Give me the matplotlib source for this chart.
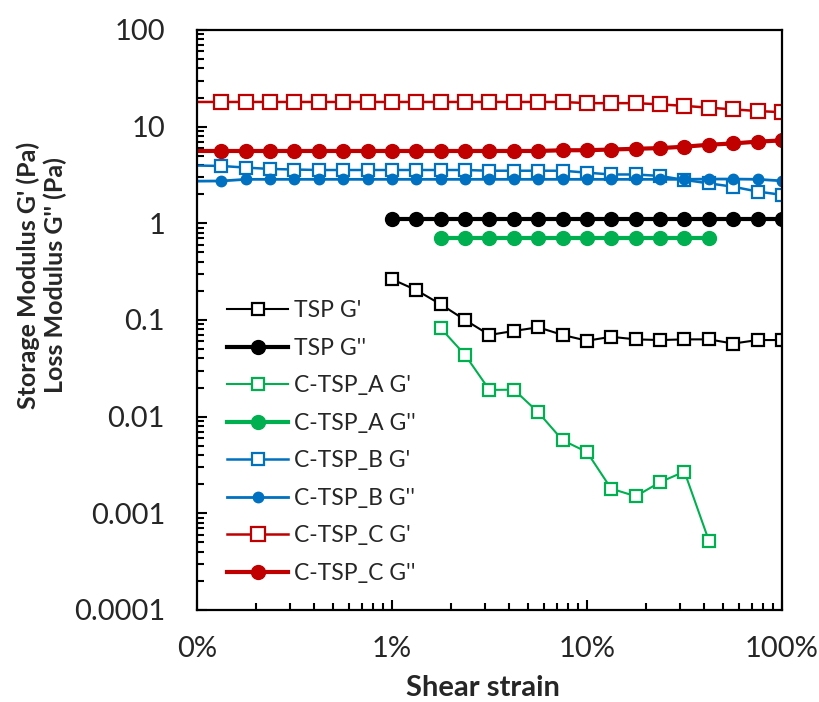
import matplotlib.pyplot as plt
from matplotlib.ticker import FuncFormatter, LogLocator, NullFormatter

plt.rcParams['font.family'] = ['Lato', 'DejaVu Sans']

# shear strain (fraction), 8 points per decade
strain = [0.00075, 0.00133, 0.00178, 0.00237, 0.00316, 0.00422, 0.00562, 0.0075,
          0.01, 0.0133, 0.0178, 0.0237, 0.0316, 0.0422, 0.0562, 0.075,
          0.1, 0.133, 0.178, 0.237, 0.316, 0.422, 0.562, 0.75, 1.0]

# TSP : from 1 % to 100 %
tsp_x = strain[8:]
tsp_g1 = [0.264, 0.204, 0.145, 0.100, 0.070, 0.077, 0.084, 0.070, 0.061,
          0.067, 0.063, 0.062, 0.063, 0.063, 0.057, 0.062, 0.062]
tsp_g2 = [1.10] * 17

# C-TSP_A : from 1.78 % to 42 %
a_x = strain[10:22]
a_g1 = [0.082, 0.0435, 0.0189, 0.019, 0.0111, 0.0057, 0.0043, 0.0018,
        0.0015, 0.0021, 0.0027, 0.00052]
a_g2 = [0.70] * 12

# C-TSP_B
b_g1 = [4.0, 3.92, 3.77, 3.65, 3.6, 3.56, 3.56, 3.56, 3.56, 3.56, 3.56, 3.56, 3.5,
        3.5, 3.5, 3.5, 3.34, 3.2, 3.2, 3.09, 2.81, 2.59, 2.39, 2.13, 1.97]
b_g2 = [2.72, 2.74, 2.85, 2.85, 2.85, 2.85, 2.85, 2.85, 2.85, 2.85, 2.85, 2.85, 2.85,
        2.85, 2.85, 2.85, 2.85, 2.85, 2.85, 2.85, 2.85, 2.87, 2.87, 2.85, 2.75]

# C-TSP_C
c_g1 = [18.0, 18.0, 18.0, 18.0, 18.0, 18.0, 18.0, 18.0, 18.0, 18.0, 18.0, 18.0, 18.0,
        18.0, 18.0, 18.0, 17.5, 17.5, 17.5, 17.0, 16.4, 15.7, 15.1, 14.5, 14.1]
c_g2 = [5.6, 5.6, 5.6, 5.6, 5.6, 5.6, 5.6, 5.6, 5.6, 5.6, 5.6, 5.6, 5.6,
        5.6, 5.6, 5.7, 5.7, 5.8, 5.9, 6.0, 6.2, 6.5, 6.7, 7.0, 7.2]

BLACK, GREEN, BLUE, RED = "#000000", "#00B050", "#0070C0", "#C00000"
TXT = "#262626"

fig = plt.figure(figsize=(8.19, 7.02), dpi=100)
ax = fig.add_axes([0.2405, 0.1311, 0.7143, 0.8262])

def open_sq(x, y, c, lbl, ms=8, lw=1.5):
    ax.plot(x, y, color=c, lw=lw, marker="s", ms=ms, mfc="white",
            mec=c, mew=1.6, label=lbl)

def dot(x, y, c, lbl, ms=10, lw=3):
    ax.plot(x, y, color=c, lw=lw, marker="o", ms=ms, mfc=c, mec=c, label=lbl)

open_sq(tsp_x, tsp_g1, BLACK, "TSP G'")
dot(tsp_x, tsp_g2, BLACK, "TSP G''")
open_sq(a_x, a_g1, GREEN, "C-TSP_A G'")
dot(a_x, a_g2, GREEN, "C-TSP_A G''")
open_sq(strain, b_g1, BLUE, "C-TSP_B G'", ms=9, lw=1.8)
dot(strain, b_g2, BLUE, "C-TSP_B G''", ms=7.5, lw=2)
open_sq(strain, c_g1, RED, "C-TSP_C G'", ms=9.5, lw=1.8)
dot(strain, c_g2, RED, "C-TSP_C G''", ms=10, lw=3)

ax.set_xscale("log")
ax.set_yscale("log")
ax.set_xlim(0.001, 1)
ax.set_ylim(0.0001, 100)

ax.xaxis.set_major_formatter(FuncFormatter(lambda v, p: f"{v*100:.0f}%"))
ax.yaxis.set_major_formatter(FuncFormatter(lambda v, p: f"{v:g}"))
ax.xaxis.set_minor_locator(LogLocator(base=10, subs=range(2, 10)))
ax.yaxis.set_minor_locator(LogLocator(base=10, subs=range(2, 10), numticks=20))
ax.xaxis.set_minor_formatter(NullFormatter())
ax.yaxis.set_minor_formatter(NullFormatter())

ax.tick_params(which="both", direction="in", width=1.5, labelsize=21,
               colors="black", labelcolor=TXT)
ax.tick_params(which="major", length=7)
ax.tick_params(which="minor", length=5)
ax.tick_params(axis="y", pad=23)
ax.tick_params(axis="x", pad=19)
for s in ax.spines.values():
    s.set_linewidth(1.6)

# axis titles
fig.text(0.590, 0.008, "Shear strain", ha="center", va="baseline",
         fontsize=21, fontweight="bold", color=TXT)
fig.text(0.051, 0.608, "Storage Modulus G' (Pa)\nLoss Modulus G'' (Pa)",
         rotation=90, ha="center", va="center", fontsize=18,
         fontweight="bold", linespacing=1.2, color=TXT)

leg = ax.legend(loc="upper left", bbox_to_anchor=(0.035, 0.55), frameon=False,
                fontsize=16.5, handlelength=2.7, labelspacing=0.72,
                handletextpad=0.25, borderaxespad=0)
for t in leg.get_texts():
    t.set_color(TXT)

fig.savefig("out.png", dpi=100)
